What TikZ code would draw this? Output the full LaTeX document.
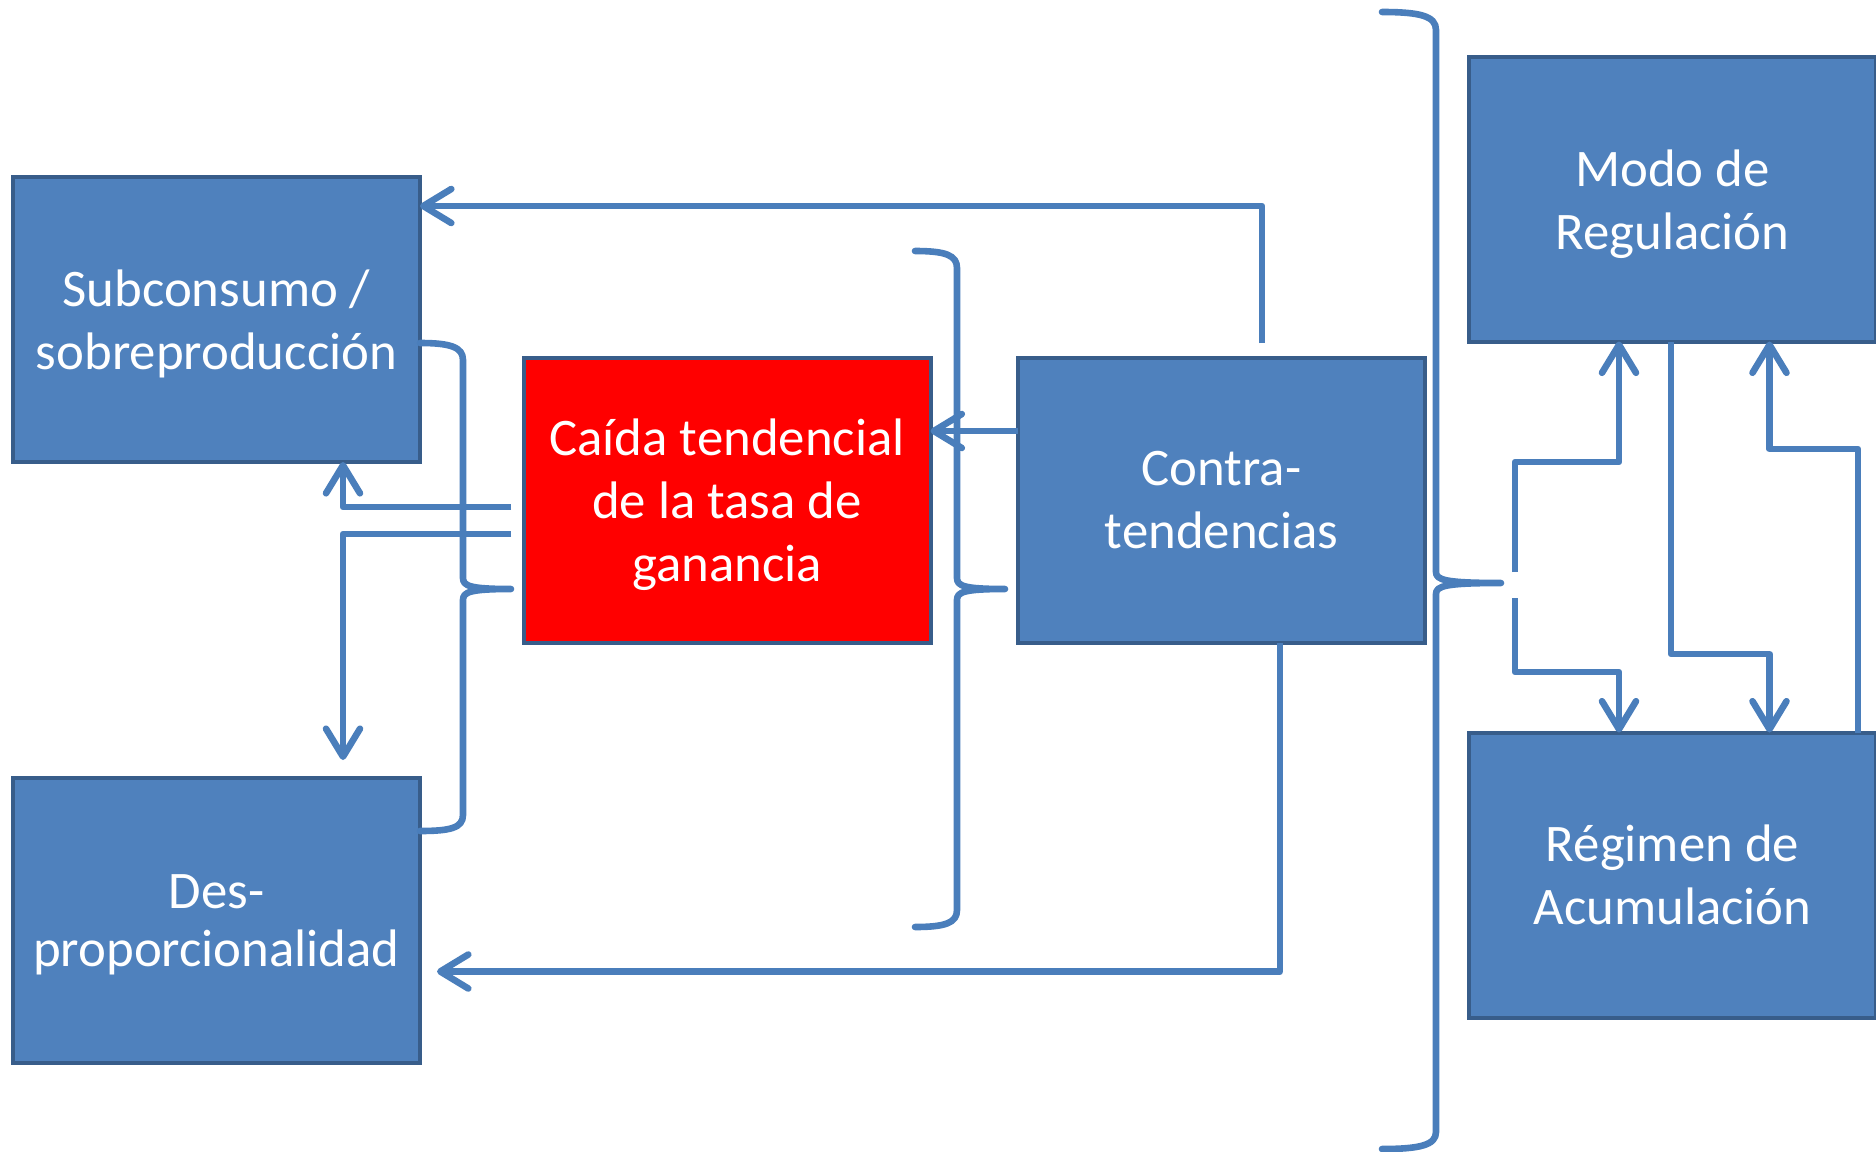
\documentclass[tikz,border=0pt]{standalone}
\usepackage{fontspec}
\setmainfont{Carlito}
\usetikzlibrary{arrows.meta,calc}
\definecolor{boxfill}{HTML}{4F81BD}
\definecolor{boxline}{HTML}{385D8A}
\definecolor{connc}{HTML}{4A7EBB}
\tikzset{
 box/.style={draw=boxline,line width=2pt,fill=boxfill,text=white,minimum width=203.5pt,minimum height=142.5pt,inner sep=0pt,outer sep=0pt,align=center,font=\fontsize{26.4}{31.5}\selectfont},
 redbox/.style={box,fill=red},
 lbl/.style={text=white,align=center,font=\fontsize{26.4}{31.5}\selectfont,inner sep=0pt},
 conn/.style={draw=connc,line width=3.3pt,line join=round},
 arr/.style={conn,-{Straight Barb[length=14pt,width=17pt,line cap=round,line join=round]}},
 bracket/.style={conn,line cap=round}
}
\begin{document}
\begin{tikzpicture}[x=0.5pt,y=-0.5pt]
\useasboundingbox[fill=white] (0,0) rectangle (1876,1152);
\node[box,label={[lbl,yshift=-2pt]center:Subconsumo /\\sobreproducción}] (sub) at (216.5,319.5) {};
\node[box,label={[lbl,yshift=-2.5pt,font=\fontsize{26.4}{28.7}\selectfont]center:Des-\\proporcionalidad}] (des) at (216.5,920) {};
\node[redbox,label={[lbl,yshift=-2.5pt]center:Caída tendencial\\de la tasa de\\ganancia}] (caida) at (727,500) {};
\node[box] (contra) at (1221.5,500) {Contra-\\tendencias};
\node[box,label={[lbl,yshift=-2.5pt]center:Modo de\\Regulación}] (modo) at (1672.5,199) {};
\node[box] (reg) at (1672.5,875) {Régimen de\\Acumulación};

% braces
\draw[bracket] (sub.east |- 0,343) .. controls (450,343) and (463,347) .. (463,360) -- (463,578)
  .. controls (463,586) and (470,589) .. (511,589)
  .. controls (470,589) and (463,592) .. (463,600) -- (463,815)
  .. controls (463,828) and (450,831) .. (des.east |- 0,831);
\draw[bracket] (915,251) .. controls (945,251) and (957,255) .. (957,268) -- (957,578)
  .. controls (957,586) and (964,589) .. (1005,589)
  .. controls (964,589) and (957,592) .. (957,600) -- (957,910)
  .. controls (957,923) and (945,927) .. (915,927);
\draw[bracket] (1382,12) .. controls (1420,12) and (1436,16) .. (1436,30) -- (1436,572)
  .. controls (1436,580) and (1445,583) .. (1501,583)
  .. controls (1445,583) and (1436,586) .. (1436,594) -- (1436,1132)
  .. controls (1436,1145) and (1420,1149) .. (1382,1149);

% connectors
\draw[arr] (1262,343) -- (1262,206) -- (sub.east |- 0,206);
\draw[arr] (contra.west |- 0,431) -- (caida.east |- 0,431);
\draw[arr] (511,507) -- (343,507) -- (sub.south -| 343,0);
\draw[arr] (511,534) -- (343,534) -- (343,760);
\draw[arr] (contra.south -| 1280,0) -- (1280,971.5) -- (437,971.5);
\draw[arr] (1515,572) -- (1515,462) -- (1619,462) -- (modo.south -| 1619,0);
\draw[arr] (1515,598) -- (1515,672) -- (1619,672) -- (reg.north -| 1619,0);
\draw[arr] (modo.south -| 1671,0) -- (1671,654) -- (1769.5,654) -- (reg.north -| 1769.5,0);
\draw[arr] (reg.north -| 1858,0) -- (1858,449) -- (1769.5,449) -- (modo.south -| 1769.5,0);
\end{tikzpicture}
\end{document}
